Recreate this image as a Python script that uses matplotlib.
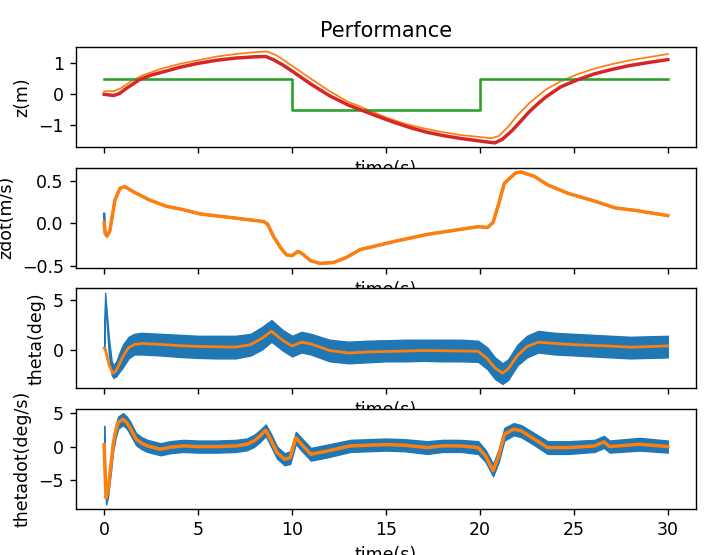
import matplotlib
matplotlib.use("Agg")
import matplotlib.pyplot as plt

# ---------------- data ----------------
# z plot
z_t = [0, 0.25, 0.5, 0.8, 1.2, 1.9, 2.5, 3.3, 4, 5, 6, 7, 8, 8.6, 9.0, 9.5, 10, 11, 12, 13,
       13.65, 14.5, 15.4, 16.3, 17.2, 18.1, 19, 20, 20.5, 20.8, 21.2, 21.7, 22.2, 22.6, 23.0,
       23.5, 24.3, 25.2, 26.1, 27, 27.9, 29, 30]
z_val = [0.0, -0.02, -0.04, 0.02, 0.2, 0.48, 0.62, 0.75, 0.87, 1.0, 1.1, 1.17, 1.21, 1.22, 1.12,
         0.95, 0.75, 0.33, -0.05, -0.35, -0.5, -0.7, -0.9, -1.08, -1.23, -1.34, -1.43, -1.51,
         -1.55, -1.57, -1.45, -1.18, -0.85, -0.58, -0.35, -0.09, 0.24, 0.47, 0.66, 0.8, 0.92,
         1.03, 1.12]
zd_t = [0, 0.5, 0.9, 1.5, 2, 3, 4, 5, 6, 7, 8, 8.7, 9.2, 10, 11, 12, 13, 13.65, 15, 16, 17, 18,
        19, 20, 20.6, 21.0, 21.5, 22, 22.6, 23.5, 24.3, 25.2, 26.1, 27, 28, 29, 30]
zd_val = [0.1, 0.1, 0.2, 0.45, 0.6, 0.82, 0.98, 1.1, 1.22, 1.3, 1.36, 1.38, 1.25, 0.92, 0.5, 0.1,
          -0.25, -0.4, -0.75, -0.95, -1.1, -1.22, -1.32, -1.38, -1.42, -1.35, -1.05, -0.68, -0.3,
          0.15, 0.42, 0.65, 0.83, 0.97, 1.1, 1.2, 1.3]
ref_t = [0, 10, 10, 20, 20, 30]
ref_val = [0.5, 0.5, -0.5, -0.5, 0.5, 0.5]

# zdot plot
zdot_t = [0, 0.05, 0.15, 0.3, 0.57, 0.84, 1.1, 1.55, 2.44, 3.3, 4.2, 5.1, 6.9, 8.5, 8.7, 9.0,
          9.4, 9.7, 10.0, 10.3, 10.5, 11.0, 11.5, 12.2, 12.9, 13.6, 15.5, 17.2, 19.0, 19.9, 20.4,
          20.7, 21.0, 21.3, 21.9, 22.2, 22.9, 23.6, 24.7, 26.1, 27.2, 28.3, 30]
zdot_filt = [0.01, -0.12, -0.15, -0.09, 0.27, 0.41, 0.43, 0.37, 0.27, 0.2, 0.16, 0.11, 0.063,
             0.02, -0.01, -0.15, -0.29, -0.37, -0.38, -0.33, -0.35, -0.44, -0.47, -0.46, -0.40,
             -0.31, -0.21, -0.13, -0.07, -0.04, -0.05, 0.01, 0.23, 0.47, 0.59, 0.6, 0.55, 0.45,
             0.35, 0.26, 0.18, 0.15, 0.09]
zdot_meas = [0.11, -0.1, -0.15, -0.09, 0.27, 0.41, 0.43, 0.37, 0.27, 0.2, 0.16, 0.11, 0.063,
             0.02, -0.01, -0.15, -0.29, -0.37, -0.38, -0.33, -0.35, -0.44, -0.47, -0.46, -0.40,
             -0.31, -0.21, -0.13, -0.07, -0.04, -0.05, 0.01, 0.23, 0.47, 0.59, 0.6, 0.55, 0.45,
             0.35, 0.26, 0.18, 0.15, 0.09]

# theta plot
th_t = [0, 0.05, 0.12, 0.25, 0.4, 0.5, 0.65, 0.8, 1.0, 1.3, 1.6, 2.0, 3, 4, 5, 6, 7, 7.8, 8.4,
        8.9, 9.5, 10.0, 10.5, 11.0, 12, 13, 14, 15, 16, 17, 18, 19, 19.9, 20.4, 20.8, 21.2,
        21.5, 22.0, 22.5, 23.1, 24, 25, 26, 27, 28, 29, 30]
th_filt = [0.14, 0.1, -0.44, -1.5, -2.2, -2.4, -2.1, -1.5, -0.7, 0.2, 0.5, 0.63, 0.52, 0.4, 0.32,
           0.28, 0.25, 0.5, 1.15, 1.87, 0.95, 0.35, 0.75, 0.58, -0.1, -0.35, -0.25, -0.2, -0.15,
           -0.1, -0.12, -0.15, -0.17, -0.95, -1.87, -2.4, -1.97, -0.6, 0.3, 0.75, 0.62, 0.5, 0.42,
           0.35, 0.24, 0.3, 0.37]
th_meas_hi = [0.2, 5.8, 4.2, 1.2, -1.2, -1.6, -1.2, -0.4, 0.5, 1.3, 1.6, 1.7, 1.6, 1.5, 1.4, 1.4,
              1.4, 1.6, 2.3, 3.0, 2.0, 1.4, 1.8, 1.6, 1.0, 0.8, 0.9, 0.95, 1.0, 1.0, 1.0, 1.0, 0.9,
              0.2, -0.8, -1.4, -1.0, 0.5, 1.4, 1.9, 1.7, 1.6, 1.5, 1.4, 1.3, 1.35, 1.4]
th_meas_lo = [0.0, 4.8, 3.0, -0.5, -2.6, -2.9, -2.7, -2.3, -1.8, -0.9, -0.5, -0.5, -0.6, -0.75,
              -0.85, -0.9, -0.9, -0.6, 0.0, 0.8, -0.1, -0.7, -0.3, -0.5, -1.2, -1.4, -1.3, -1.2,
              -1.2, -1.15, -1.2, -1.2, -1.25, -2.0, -3.0, -3.5, -3.1, -1.6, -0.8, -0.3, -0.5,
              -0.6, -0.7, -0.8, -0.9, -0.85, -0.8]

# thetadot plot
td_t = [0, 0.03, 0.1, 0.2, 0.35, 0.48, 0.62, 0.75, 1.0, 1.2, 1.37, 1.7, 2.0, 2.3, 3.0, 3.5, 4.2,
        5, 6, 7, 7.6, 8.0, 8.3, 8.6, 8.9, 9.2, 9.6, 9.9, 10.2, 10.5, 11.0, 11.9, 13.1, 14, 15, 16,
        17.2, 18, 19, 19.9, 20.3, 20.7, 21.0, 21.3, 21.8, 22.2, 22.9, 23.6, 24.7, 26.1, 26.6,
        26.9, 28.5, 30]
td_filt = [0.3, -2.6, -7.7, -6.6, -3.0, 0.35, 2.4, 3.6, 4.1, 3.6, 2.85, 1.1, 0.5, 0.1, -0.4,
           -0.1, 0.1, 0.0, 0.0, 0.1, 0.35, 0.9, 1.6, 2.45, 0.85, -0.9, -1.9, -1.65, 1.35, 0.35,
           -1.15, -0.65, 0.1, 0.2, 0.3, 0.2, -0.15, 0.1, 0.1, -0.15, -1.4, -3.6, -1.4, 1.85, 2.6,
           2.35, 1.1, -0.15, -0.15, 0.1, 0.7, 0.0, 0.35, 0.0]
td_meas_hi = [3.1, -1.5, -6.8, -5.6, -2.0, 1.3, 3.4, 4.5, 5.0, 4.5, 3.8, 2.0, 1.4, 1.0, 0.5, 0.8,
              1.0, 0.9, 0.9, 1.0, 1.2, 1.8, 2.5, 3.3, 1.8, 0.0, -1.0, -0.7, 2.2, 1.3, -0.2, 0.3,
              1.0, 1.1, 1.2, 1.1, 0.8, 1.0, 1.0, 0.8, -0.5, -2.6, -0.4, 2.8, 3.5, 3.2, 2.0, 0.8,
              0.8, 1.0, 1.6, 0.9, 1.3, 0.9]
td_meas_lo = [0.0, -3.5, -8.65, -7.6, -4.0, -0.6, 1.4, 2.7, 3.2, 2.7, 1.9, 0.2, -0.4, -0.8, -1.3,
              -1.0, -0.8, -0.9, -0.9, -0.8, -0.55, 0.0, 0.7, 1.6, -0.1, -1.8, -2.8, -2.6, 0.4,
              -0.6, -2.1, -1.6, -0.8, -0.7, -0.6, -0.7, -1.1, -0.8, -0.8, -1.1, -2.3, -4.45, -2.3,
              0.9, 1.7, 1.4, 0.2, -1.1, -1.1, -0.8, -0.2, -0.9, -0.6, -0.9]

titles = ["Performance"]
ylabels = ["z(m)", "zdot(m/s)", "theta(deg)", "thetadot(deg/s)"]
xlabel = "time(s)"

# ---------------- figure ----------------
DPI = 125
fig, axes = plt.subplots(4, 1, sharex=True, figsize=(713 / DPI, 555 / DPI), dpi=DPI)
fig.subplots_adjust(left=76 / 713, right=696 / 713, top=1 - 47 / 555, bottom=1 - 509 / 555,
                    hspace=0.2)

ax = axes[0]
ax.plot(zd_t, zd_val, color="C1", lw=1.0)
ax.plot(ref_t, ref_val, color="C2", lw=1.5)
ax.plot(z_t, z_val, color="C3", lw=2.0)
ax.set_title(titles[0])

ax = axes[1]
ax.plot(zdot_t, zdot_meas, color="C0", lw=1.5)
ax.plot(zdot_t, zdot_filt, color="C1", lw=2.0)

ax = axes[2]
ax.fill_between(th_t, th_meas_lo, th_meas_hi, color="C0", lw=0.8)
ax.plot(th_t, th_filt, color="C1", lw=1.6)

ax = axes[3]
ax.fill_between(td_t, td_meas_lo, td_meas_hi, color="C0", lw=0.8)
ax.plot(td_t, td_filt, color="C1", lw=2.0)

for a, lab in zip(axes, ylabels):
    a.set_ylabel(lab)
    a.set_xlabel(xlabel)
axes[3].set_xticks([0, 5, 10, 15, 20, 25, 30])

fig.savefig("out.png", dpi=DPI)
